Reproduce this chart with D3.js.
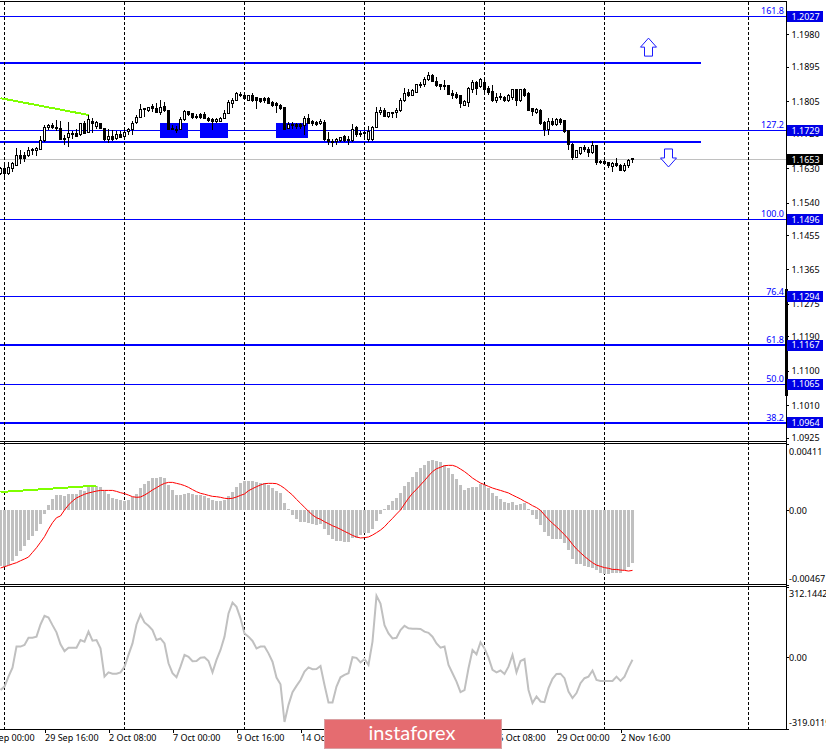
<!DOCTYPE html>
<html><head><meta charset="utf-8">
<style>
html,body{margin:0;padding:0;background:#fff;overflow:hidden}
svg{display:block}
text{font-family:"Noto Sans",sans-serif;font-size:9px}
</style>
<script src="https://cdn.jsdelivr.net/npm/d3@7/dist/d3.min.js"></script>
</head><body><svg id="c" width="826" height="750"></svg>
<script>
// Prices in units of 0.0001
const opens=[11617,11630,11617,11628,11638,11663,11663,11663,11676,11676,
11680,11701,11735,11742,11737,11734,11708,11709,11719,11721,
11717,11747,11723,11753,11740,11747,11734,11704,11712,11707,
11717,11712,11725,11732,11749,11763,11786,11780,11791,11786,
11775,11792,11780,11734,11732,11731,11756,11779,11772,11766,
11769,11769,11761,11756,11751,11753,11760,11773,11800,11808,
11823,11821,11808,11819,11814,11811,11811,11811,11801,11800,
11793,11789,11734,11745,11743,11743,11741,11760,11752,11749,
11746,11750,11705,11699,11699,11701,11714,11704,11701,11735,
11720,11723,11704,11704,11737,11775,11782,11765,11774,11775,
11780,11807,11828,11820,11828,11850,11848,11861,11873,11857,
11848,11845,11845,11826,11822,11819,11795,11801,11835,11854,
11843,11854,11839,11830,11806,11815,11814,11807,11815,11835,
11807,11836,11826,11787,11775,11782,11749,11732,11752,11743,
11758,11754,11728,11693,11658,11669,11685,11680,11671,11689,
11647,11648,11645,11634,11641,11638,11625,11637,11655];
const highs=[11634,11643,11647,11647,11682,11678,11673,11685,11682,11685,
11714,11743,11746,11747,11756,11752,11717,11750,11726,11732,
11747,11752,11769,11760,11752,11749,11736,11732,11730,11726,
11728,11734,11734,11752,11769,11797,11787,11791,11798,11800,
11807,11802,11782,11743,11739,11765,11782,11780,11775,11771,
11773,11778,11765,11760,11760,11765,11782,11807,11813,11830,
11830,11823,11821,11826,11817,11814,11815,11815,11805,11804,
11797,11791,11751,11751,11749,11749,11766,11771,11756,11754,
11758,11756,11725,11706,11710,11712,11716,11714,11745,11741,
11726,11726,11739,11741,11791,11791,11787,11778,11778,11787,
11813,11839,11836,11836,11850,11856,11868,11881,11876,11868,
11850,11861,11848,11835,11828,11821,11807,11843,11861,11859,
11865,11865,11845,11848,11826,11826,11819,11824,11836,11836,
11837,11839,11828,11788,11787,11784,11752,11760,11760,11760,
11760,11756,11730,11695,11678,11686,11691,11686,11702,11691,
11651,11651,11647,11647,11656,11641,11643,11653,11656];
const lows=[11612,11606,11612,11621,11636,11641,11647,11660,11664,11662,
11678,11699,11730,11733,11726,11704,11691,11684,11705,11714,
11715,11719,11721,11721,11733,11732,11702,11695,11701,11704,
11708,11711,11717,11717,11746,11760,11765,11778,11778,11773,
11769,11778,11730,11730,11721,11730,11752,11766,11758,11758,
11758,11758,11750,11730,11747,11752,11758,11772,11787,11807,
11817,11808,11807,11804,11784,11800,11801,11797,11789,11775,
11782,11730,11732,11733,11732,11733,11717,11746,11740,11740,
11743,11702,11691,11686,11691,11698,11699,11691,11699,11712,
11711,11704,11699,11701,11734,11769,11763,11760,11760,11760,
11778,11804,11815,11819,11826,11839,11841,11859,11854,11841,
11835,11835,11821,11810,11810,11787,11793,11789,11826,11821,
11839,11824,11821,11804,11801,11807,11802,11804,11808,11793,
11804,11817,11780,11766,11772,11743,11714,11717,11740,11740,
11743,11723,11678,11650,11656,11665,11671,11658,11667,11638,
11641,11638,11630,11621,11634,11624,11621,11630,11644];
const closes=[11630,11615,11632,11641,11663,11654,11654,11676,11678,11682,
11701,11737,11742,11736,11733,11706,11705,11721,11721,11714,
11747,11721,11756,11747,11749,11733,11704,11712,11705,11717,
11711,11724,11732,11747,11763,11784,11783,11788,11787,11775,
11789,11780,11731,11731,11731,11758,11777,11770,11763,11763,
11763,11760,11754,11753,11758,11761,11773,11802,11808,11824,
11821,11811,11819,11808,11808,11804,11807,11798,11795,11794,
11786,11732,11743,11741,11740,11740,11760,11747,11746,11745,
11753,11704,11699,11698,11704,11710,11701,11701,11732,11717,
11719,11722,11725,11737,11775,11782,11766,11775,11776,11780,
11807,11826,11819,11833,11848,11845,11862,11873,11856,11845,
11843,11843,11823,11819,11815,11798,11804,11839,11854,11839,
11861,11836,11828,11808,11815,11817,11807,11820,11835,11807,
11835,11821,11782,11778,11784,11746,11732,11752,11743,11756,
11749,11726,11693,11658,11676,11685,11678,11671,11688,11645,
11646,11643,11636,11641,11637,11625,11638,11651,11653];
// MACD in units of 0.00001
const macdBars=[-349,-353,-343,-316,-286,-255,-224,-187,-162,-129,
-87,-25,31,66,93,93,87,100,100,100,
125,118,145,149,149,141,120,100,73,66,
62,58,62,83,100,139,162,179,199,201,
208,199,158,125,93,93,102,106,100,93,
93,87,73,62,56,58,62,87,112,145,
170,179,181,181,176,166,170,156,137,120,
108,46,4,-29,-54,-75,-75,-79,-87,-91,
-89,-120,-156,-183,-191,-193,-197,-197,-172,-176,
-156,-145,-141,-120,-69,-25,6,31,56,77,
108,149,176,203,235,260,280,307,311,307,
297,280,260,224,191,156,125,135,145,145,
162,156,135,108,89,66,48,46,52,31,
37,42,6,-31,-56,-93,-135,-162,-179,-181,
-183,-203,-249,-305,-336,-338,-349,-357,-363,-374,
-390,-399,-399,-392,-392,-390,-374,-357,-328];
const macdSignal=[-361,-353,-345,-336,-328,-316,-305,-293,-264,-235,
-201,-166,-120,-79,-48,-37,0,31,56,75,
87,98,106,112,118,122,122,122,122,116,
108,102,93,83,79,81,93,108,125,139,
154,166,172,172,166,160,152,141,127,114,
104,98,91,85,83,79,73,71,73,81,
91,100,120,133,145,156,164,166,166,164,
152,135,114,93,66,42,17,-8,-31,-48,
-58,-73,-85,-98,-108,-120,-133,-145,-158,-168,
-174,-172,-168,-156,-141,-125,-104,-77,-52,-25,
0,37,73,104,129,156,183,212,239,257,
266,276,278,278,270,255,239,220,199,183,
168,158,147,137,129,122,114,106,93,81,
69,54,42,27,15,-2,-31,-58,-83,-104,
-129,-154,-181,-214,-243,-266,-289,-309,-328,-343,
-351,-359,-363,-370,-370,-374,-376,-380,-376];
const cciLine=[-146,-131,-87,-47,46,46,53,85,85,90,
144,182,175,141,109,56,26,41,41,41,
75,68,112,72,75,38,-87,-68,-74,-74,
-68,-43,9,60,144,188,153,138,119,75,
82,60,-28,-72,-90,-43,9,1,-19,-18,
-3,-1,-18,-68,-13,31,90,193,241,222,
171,104,90,71,38,46,46,16,-21,-91,
-121,-288,-212,-156,-128,-102,-65,-46,-54,-53,
-40,-124,-202,-202,-131,-90,-79,-72,-1,-4,
-24,-9,-35,68,271,237,141,104,82,85,
119,138,127,125,125,124,112,107,90,60,
41,46,-35,-72,-109,-156,-147,-50,31,12,
65,38,-3,-57,-68,-60,-75,-43,9,-68,
-18,-9,-146,-204,-175,-197,-200,-138,-97,-75,
-74,-94,-153,-182,-160,-116,-94,-87,-60,-102,
-106,-106,-106,-106,-87,-106,-87,-47,-12];

const priceTicks=[1.1980,1.1895,1.1805,1.1720,1.1630,1.1540,1.1455,1.1365,1.1275,1.1190,1.1100,1.1010,1.0925];
const fibPrices=[1.2027,1.1729,1.1496,1.1294,1.1167,1.1065,1.0964];
const fibNames=["161.8","127.2","100.0","76.4","61.8","50.0","38.2"];
const fibWidths=[1,1,1,1,2,1,2];
const lastPrice=1.1653;
const levelPrices=[1.1905,1.1699];
const levelEndIdx=175.1;
const zoneStart=[40,50,69], zoneEnd=[47,57,77], zoneTop=1.1747, zoneBottom=1.1710;
const gridIdx=[1,31,61,91,121,151,187];
const dateIdx=[-5,11,27,43,59,75,91,107,123,139,155];
const dateLabels=["25 Sep 00:00","29 Sep 16:00","2 Oct 08:00","7 Oct 00:00","9 Oct 16:00","14 Oct 08:00","16 Oct 00:00","20 Oct 16:00","26 Oct 08:00","29 Oct 00:00","2 Nov 16:00"];
const mainTrend=[[0,1.1813],[22,1.1769]];
const macdTrend=[[0,112],[24,152]];
const macdTickVals=[411,0,-467], macdTickText=["0.00411","0.00","-0.00467"];
const cciTickVals=[312.1442,0,-319.0119], cciTickText=["312.1442","0.00","-319.0119"];
const arrowUp={idx:162,price:1.1970}, arrowDown={idx:167,price:1.1633};

const AX=786, BLUE="#0000ff", GREY="#c0c0c0", FONT='"Noto Sans",sans-serif';
const svg=d3.select("#c");
const x=d3.scaleLinear().domain([0,159]).range([0.5,636.5]);
const y=d3.scaleLinear().domain([1.1980,1.0925]).range([34.3,437.7]);
const yM=d3.scaleLinear().domain([411,-467]).range([444,585]);
const yC=d3.scaleLinear().domain([312.1442,-319.0119]).range([586.5,729]);
const P=v=>y(v/1e4);
const idx=d3.range(opens.length);
const crisp=s=>s.attr("shape-rendering","crispEdges");

// price-line and zones
crisp(svg.append("line").attr("x1",0).attr("x2",AX).attr("y1",y(lastPrice)).attr("y2",y(lastPrice)).attr("stroke",GREY));
crisp(svg.append("g").selectAll("rect").data(zoneStart).join("rect")
 .attr("x",d=>x(d)-0.5).attr("width",(d,i)=>x(zoneEnd[i])-x(d)).attr("y",y(zoneTop)).attr("height",y(zoneBottom)-y(zoneTop)).attr("fill",BLUE));

// fibo lines
crisp(svg.append("g").selectAll("line").data(fibPrices).join("line")
 .attr("x1",0).attr("x2",AX).attr("y1",d=>y(d)).attr("y2",d=>y(d)).attr("stroke",BLUE).attr("stroke-width",(d,i)=>fibWidths[i]));
svg.append("g").selectAll("text").data(fibPrices).join("text")
 .attr("x",784).attr("y",d=>y(d)-2).attr("text-anchor","end").attr("fill",BLUE).text((d,i)=>fibNames[i]);
// support / resistance
crisp(svg.append("g").selectAll("line").data(levelPrices).join("line")
 .attr("x1",0).attr("x2",x(levelEndIdx)).attr("y1",d=>y(d)).attr("y2",d=>y(d)).attr("stroke",BLUE).attr("stroke-width",2));

// grid
crisp(svg.append("g").selectAll("line").data(gridIdx).join("line")
 .attr("x1",d=>x(d)).attr("x2",d=>x(d)).attr("y1",2).attr("y2",729)
 .attr("stroke","#000").attr("stroke-dasharray","3,2"));

// trend line
const lineXY=(yf)=>d3.line().x(d=>x(d[0])).y(d=>yf(d[1]));
svg.append("path").attr("d",lineXY(y)(mainTrend)).attr("fill","none").attr("stroke","#7fff00").attr("stroke-width",2).attr("shape-rendering","crispEdges");

// candles
const cg=crisp(svg.append("g"));
cg.selectAll("line").data(idx).join("line")
 .attr("x1",i=>x(i)).attr("x2",i=>x(i)).attr("y1",i=>P(highs[i])).attr("y2",i=>P(lows[i])).attr("stroke","#000");
cg.selectAll("rect").data(idx).join("rect")
 .attr("x",i=>x(i)-1).attr("width",2)
 .attr("y",i=>Math.min(P(opens[i]),P(closes[i]))).attr("height",i=>Math.max(1,Math.abs(P(opens[i])-P(closes[i]))))
 .attr("fill",i=>closes[i]>=opens[i]?"#fff":"#000").attr("stroke","#000").attr("stroke-width",1);

// arrows
const upShape=[[0,0],[8,9],[4,9],[4,18],[-4,18],[-4,9],[-8,9]];
const arrow=(a,s)=>svg.append("path")
 .attr("d",d3.line()(upShape.map(p=>[x(a.idx)+p[0],y(a.price)+s*p[1]]))+"Z")
 .attr("fill","#fff").attr("stroke","#1a1aff").attr("stroke-width",1);
arrow(arrowUp,1); arrow(arrowDown,-1);

// MACD
crisp(svg.append("g").selectAll("rect").data(idx).join("rect")
 .attr("x",i=>x(i)-1.5).attr("width",3)
 .attr("y",i=>Math.min(yM(macdBars[i]),yM(0))).attr("height",i=>Math.abs(yM(macdBars[i])-yM(0)))
 .attr("fill",GREY));
svg.append("path").attr("d",lineXY(yM)(macdTrend)).attr("fill","none").attr("stroke","#7fff00").attr("stroke-width",2).attr("shape-rendering","crispEdges");
svg.append("path").attr("d",d3.line().x((d,i)=>x(i)).y(d=>yM(d))(macdSignal)).attr("fill","none").attr("stroke","#ff0000").attr("stroke-width",1);

// CCI
svg.append("path").attr("d",d3.line().x((d,i)=>x(i)).y(d=>yC(d))(cciLine)).attr("fill","none").attr("stroke",GREY).attr("stroke-width",2);

// frame
const hLines=[1.5,441.5,443.5,584.5,586.5,729.5];
crisp(svg.append("g").selectAll("line").data(hLines).join("line")
 .attr("x1",0).attr("x2",AX).attr("y1",d=>d).attr("y2",d=>d).attr("stroke","#000"));
crisp(svg.append("line").attr("x1",AX+.5).attr("x2",AX+.5).attr("y1",1).attr("y2",730).attr("stroke","#000"));
crisp(svg.append("line").attr("x1",AX).attr("x2",AX).attr("y1",y(1.1314)).attr("y2",y(1.1035)).attr("stroke","#000").attr("stroke-width",3));

// axes
const styleAxis=(g,dxText)=>{g.select(".domain").remove();
 g.selectAll(".tick line").attr("stroke","#000").attr("shape-rendering","crispEdges");
 g.selectAll(".tick text").attr("fill","#000").attr("x",dxText).attr("dy","0.34em");
 g.selectAll("text").style("font-family",FONT).style("font-size","9px");};
svg.append("g").attr("transform",`translate(${AX},0)`)
 .call(d3.axisRight(y).tickValues(priceTicks).tickSize(3).tickFormat(d3.format(".4f")))
 .call(g=>styleAxis(g,5.5));
svg.append("g").attr("transform",`translate(${AX},0)`)
 .call(d3.axisRight(yM).tickValues(macdTickVals).tickSize(3).tickFormat((d,i)=>macdTickText[i]))
 .call(g=>styleAxis(g,3))
 .call(g=>g.selectAll(".tick text").attr("y",(d,i)=>[7,0,-7][i]));
svg.append("g").attr("transform",`translate(${AX},0)`)
 .call(d3.axisRight(yC).tickValues(cciTickVals).tickSize(3).tickFormat((d,i)=>cciTickText[i]))
 .call(g=>styleAxis(g,3))
 .call(g=>g.selectAll(".tick text").attr("y",(d,i)=>[7,0,-7][i]));

// blue labels
const box=(p,txt,fill)=>{const g=svg.append("g");
 crisp(g.append("rect").attr("x",787).attr("width",36).attr("y",y(p)-5.5).attr("height",11).attr("fill",fill));
 g.append("text").attr("x",791.5).attr("y",y(p)+3.3).attr("fill","#fff").text(txt);};
fibPrices.forEach(p=>box(p,d3.format(".4f")(p),"#0000e6"));
box(lastPrice,d3.format(".4f")(lastPrice),"#000");

// dates
const dg=svg.append("g").attr("transform","translate(0,729.5)")
 .call(d3.axisBottom(x).tickValues(dateIdx).tickSize(3).tickFormat((d,i)=>dateLabels[i]));
dg.select(".domain").remove();
dg.selectAll(".tick line").attr("stroke","#000").attr("shape-rendering","crispEdges");
dg.selectAll(".tick text").attr("text-anchor","start").attr("x",0).attr("y",5).attr("dy","0.71em").attr("fill","#000")
 .style("font-family",FONT).style("font-size","9px");

// watermark
const wm=svg.append("g");
crisp(wm.append("rect").attr("x",324.5).attr("y",719).attr("width",177).attr("height",29.5).attr("fill","#e56c70").attr("stroke","#d9a0a2"));
wm.append("text").attr("x",412).attr("y",740).attr("text-anchor","middle").attr("fill","#fff")
 .style("font-family","Lato,sans-serif").style("font-size","20px").text("instaforex");
</script></body></html>
